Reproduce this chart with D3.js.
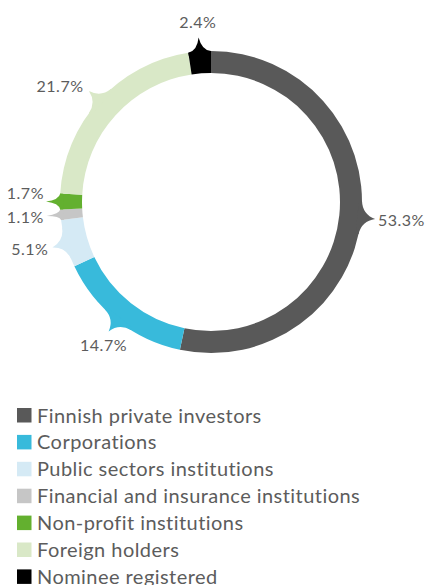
<!DOCTYPE html>
<html>
<head>
<meta charset="utf-8">
<script src="https://cdn.jsdelivr.net/npm/d3@7"></script>
<style>
  html,body{margin:0;padding:0;background:#fff;}
  svg{display:block;font-family:"Century Gothic","Lato","Open Sans",sans-serif;}
</style>
</head>
<body>
<div id="chart"></div>
<script>
// Shareholder structure, donut with pointer tabs
const categories = ["Finnish private investors","Corporations","Public sectors institutions","Financial and insurance institutions","Non-profit institutions","Foreign holders","Nominee registered"];
const shares = [53.3, 14.7, 5.1, 1.1, 1.7, 21.7, 2.4];
const colors = ["#595959","#38badb","#d5eaf5","#c6c6c6","#63b02f","#d9e8c7","#000000"];

const W = 427, H = 585;
const cx = 211, cy = 202, R = 151, r = 129, tipLen = 14;
const ink = "#5c5c5c";

const svg = d3.select("#chart").append("svg").attr("width",W).attr("height",H);
const g = svg.append("g").attr("transform",`translate(${cx},${cy})`);

const data = categories.map((c,i)=>({name:c, v:shares[i], color:colors[i]}));
const pie = d3.pie().value(d=>d.v).sort(null);
const arcs = pie(data);
const arc = d3.arc().innerRadius(r).outerRadius(R);

g.selectAll("path.slice").data(arcs).join("path").attr("class","slice")
  .attr("d",arc).attr("fill",d=>d.data.color);

// pointer tab per slice
const P = (a,rad)=>d3.pointRadial(a,rad);
function tabPath(d){
  const m=(d.startAngle+d.endAngle)/2;
  const hw=Math.min((d.endAngle-d.startAngle)/2, 0.11);
  const A=P(m-hw,R-3), B=P(m-hw,R), C1=P(m-hw*0.2,R+1), T=P(m,R+tipLen), C2=P(m+hw*0.2,R+1), D=P(m+hw,R), E=P(m+hw,R-3);
  const p=d3.path();
  p.moveTo(...A); p.lineTo(...B); p.quadraticCurveTo(...C1,...T); p.quadraticCurveTo(...C2,...D); p.lineTo(...E); p.closePath();
  return p.toString();
}
g.selectAll("path.tab").data(arcs).join("path").attr("class","tab")
  .attr("d",tabPath).attr("fill",d=>d.data.color);

// labels
const fmt = v=>v.toFixed(1)+"%";
const labels = arcs.map(d=>{
  const m=(d.startAngle+d.endAngle)/2, s=Math.sin(m), c=Math.cos(m);
  const pt=P(m, R+16+Math.abs(c)*8);
  let anchor="middle", base="central";
  if(Math.abs(s)<0.7){ base = c>0 ? "auto" : "hanging"; }
  else anchor = s>0 ? "start" : "end";
  return {x:pt[0], y:pt[1], anchor, base, side:anchor, text:fmt(d.data.v)};
});
// keep left-side labels apart
const left = labels.filter(l=>l.side==="end"&&l.base==="central").sort((a,b)=>a.y-b.y);
for(let i=left.length-2;i>=0;i--){ if(left[i+1].y-left[i].y<24) left[i].y=left[i+1].y-24; }

g.selectAll("text.lab").data(labels).join("text").attr("class","lab")
  .attr("x",d=>d.x).attr("y",d=>d.y)
  .attr("text-anchor",d=>d.anchor).attr("dominant-baseline",d=>d.base)
  .attr("font-size",16).attr("letter-spacing",0.5).attr("fill",ink).text(d=>d.text);

// legend
const lg = svg.append("g").attr("transform","translate(17,408)");
const row = 26.9;
const items = lg.selectAll("g").data(data).join("g").attr("transform",(d,i)=>`translate(0,${i*row})`);
items.append("rect").attr("width",14.5).attr("height",14.5).attr("fill",d=>d.color);
items.append("text").attr("x",20).attr("y",14.5).attr("font-size",20).attr("letter-spacing",0.45).attr("fill",ink).text(d=>d.name);
</script>
</body>
</html>
